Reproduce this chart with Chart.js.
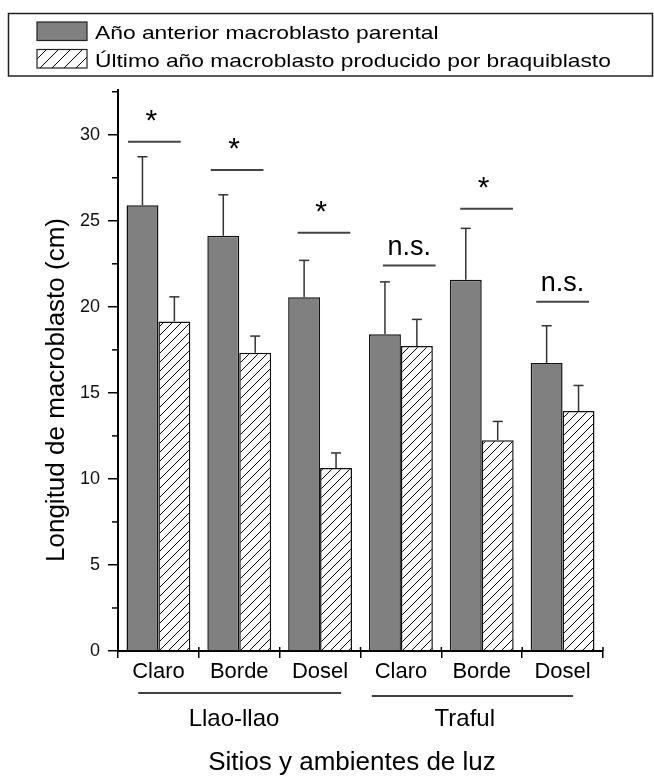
<!DOCTYPE html>
<html lang="es">
<head>
<meta charset="utf-8">
<title>Longitud de macroblasto</title>
<script src="https://cdn.jsdelivr.net/npm/chart.js@4.4.1/dist/chart.umd.min.js"></script>
<style>
  html, body { margin: 0; padding: 0; background: #fff; }
  canvas { display: block; }
</style>
</head>
<body>
<canvas id="chart" width="654" height="777"></canvas>
<script>
const categories = ["Claro", "Borde", "Dosel", "Claro", "Borde", "Dosel"];
const siteNames = ["Llao-llao", "Traful"];
const seriesNames = [
  "Año anterior macroblasto parental",
  "Último año macroblasto producido por braquiblasto",
];

const parentalMeans = [25.9, 24.13, 20.56, 18.4, 21.57, 16.74];
const parentalErr = [2.82, 2.38, 2.14, 3.05, 2.99, 2.16];
const braquiMeans = [19.15, 17.33, 10.64, 17.73, 12.25, 13.95];
const braquiErr = [1.43, 0.97, 0.87, 1.54, 1.09, 1.48];

const sigLabels = ["*", "*", "*", "n.s.", "*", "n.s."];
const sigLevels = [29.6, 27.95, 24.3, 22.4, 25.7, 20.3];

const yMax = 32.6;
const yStep = 5;

const FONT = "'Liberation Sans', Arial, sans-serif";

// layout of annotations, in category widths
const sigShift = [-0.05, -0.027, 0.048, 0.103, 0.06, 0.0];
const sigHalf = 0.326;
const siteSpans = [
  { from: 0.25, to: 2.76, label: 1.435 },
  { from: 3.14, to: 5.63, label: 4.29 },
];

function makeHatch(step, lw) {
  const c = document.createElement("canvas");
  c.width = step;
  c.height = step;
  const g = c.getContext("2d");
  g.fillStyle = "#fff";
  g.fillRect(0, 0, step, step);
  g.strokeStyle = "#000";
  g.lineWidth = lw;
  g.beginPath();
  g.moveTo(-1, step + 1);
  g.lineTo(step + 1, -1);
  g.moveTo(-1, 1);
  g.lineTo(1, -1);
  g.moveTo(step - 1, step + 1);
  g.lineTo(step + 1, step - 1);
  g.stroke();
  return g.createPattern(c, "repeat");
}

const barHatch = makeHatch(9, 1);
const legendHatch = makeHatch(12, 1);

function line(ctx, x1, y1, x2, y2) {
  ctx.beginPath();
  ctx.moveTo(x1, y1);
  ctx.lineTo(x2, y2);
  ctx.stroke();
}

const errorBars = {
  id: "errorBars",
  afterDatasetsDraw(chart) {
    const { ctx, scales } = chart;
    const y = scales.y;
    const x = scales.x;
    const catW = (x.right - x.left) / categories.length;
    const errs = [parentalErr, braquiErr];
    const means = [parentalMeans, braquiMeans];

    ctx.save();
    ctx.strokeStyle = "#333";
    ctx.lineWidth = 1.5;
    chart.data.datasets.forEach((ds, d) => {
      chart.getDatasetMeta(d).data.forEach((bar, i) => {
        const top = y.getPixelForValue(means[d][i] + errs[d][i]);
        line(ctx, bar.x, bar.y, bar.x, top);
        line(ctx, bar.x - 5, top, bar.x + 5, top);
      });
    });

    ctx.strokeStyle = "#444";
    ctx.lineWidth = 2;
    ctx.fillStyle = "#000";
    ctx.textAlign = "center";
    ctx.textBaseline = "alphabetic";
    sigLevels.forEach((lvl, i) => {
      const cx = x.getPixelForValue(i) + sigShift[i] * catW;
      const py = y.getPixelForValue(lvl);
      line(ctx, cx - sigHalf * catW, py, cx + sigHalf * catW, py);
      const star = sigLabels[i] === "*";
      ctx.font = star ? `30px ${FONT}` : `27px ${FONT}`;
      ctx.fillText(sigLabels[i], cx - (star ? 3 : 0), py - (star ? 12 : 11));
    });
    ctx.restore();
  },
};

const decor = {
  id: "decor",
  afterDraw(chart) {
    const { ctx, scales } = chart;
    const x = scales.x;
    const y = scales.y;
    const catW = (x.right - x.left) / categories.length;

    ctx.save();
    ctx.strokeStyle = "#000";
    ctx.lineWidth = 1.5;

    // minor y ticks
    for (let v = yStep / 2; v < yMax; v += yStep) {
      const py = y.getPixelForValue(v);
      line(ctx, x.left - 6, py, x.left, py);
    }
    // x boundary ticks poke above the axis
    for (let i = 1; i <= categories.length; i++) {
      const px = x.left + i * catW;
      line(ctx, px, y.bottom - 4, px, y.bottom);
    }

    // site brackets
    ctx.fillStyle = "#000";
    ctx.textAlign = "center";
    ctx.textBaseline = "alphabetic";
    ctx.font = `24px ${FONT}`;
    siteSpans.forEach((s, i) => {
      const ly = i === 0 ? 693 : 696;
      line(ctx, x.left + s.from * catW, ly, x.left + s.to * catW, ly);
      ctx.fillText(siteNames[i], x.left + s.label * catW, 726);
    });

    // axis titles
    ctx.font = `26px ${FONT}`;
    ctx.fillText("Sitios y ambientes de luz", 352, 770);
    ctx.save();
    ctx.translate(57, 390);
    ctx.rotate(-Math.PI / 2);
    ctx.textBaseline = "middle";
    ctx.fillText("Longitud de macroblasto (cm)", 0, 0);
    ctx.restore();

    // legend
    ctx.strokeStyle = "#222";
    ctx.lineWidth = 1.5;
    ctx.strokeRect(8.5, 13.5, 644, 62.5);
    ctx.lineWidth = 1.2;
    ctx.fillStyle = "#808080";
    ctx.fillRect(37, 22, 50, 18.5);
    ctx.strokeRect(37, 22, 50, 18.5);
    ctx.fillStyle = legendHatch;
    ctx.fillRect(37, 49.5, 50, 18.5);
    ctx.strokeRect(37, 49.5, 50, 18.5);

    ctx.fillStyle = "#000";
    ctx.textAlign = "left";
    ctx.font = `19px ${FONT}`;
    [38.5, 66.5].forEach((by, i) => {
      ctx.save();
      ctx.translate(95, by);
      ctx.scale(1.2, 1);
      ctx.fillText(seriesNames[i], 0, 0);
      ctx.restore();
    });
    ctx.restore();
  },
};

new Chart(document.getElementById("chart"), {
  type: "bar",
  data: {
    labels: categories,
    datasets: [
      {
        label: seriesNames[0],
        data: parentalMeans,
        backgroundColor: "#808080",
        borderColor: "#111",
        borderWidth: 1.5,
        categoryPercentage: 0.79,
        barPercentage: 1.0,
      },
      {
        label: seriesNames[1],
        data: braquiMeans,
        backgroundColor: barHatch,
        borderColor: "#111",
        borderWidth: 1.5,
        categoryPercentage: 0.79,
        barPercentage: 1.0,
      },
    ],
  },
  options: {
    responsive: false,
    animation: false,
    devicePixelRatio: 1,
    layout: { padding: { top: 90, right: 51, left: 0, bottom: 0 } },
    plugins: {
      legend: { display: false },
      title: { display: false },
      tooltip: { enabled: false },
    },
    scales: {
      x: {
        afterFit: (s) => { s.height = 126; },
        grid: {
          offset: true,
          drawOnChartArea: false,
          drawTicks: true,
          tickLength: 7,
          color: "#000",
          lineWidth: 1.5,
        },
        border: { display: true, color: "#000", width: 2 },
        ticks: {
          color: "#000",
          padding: 1,
          font: { family: FONT, size: 22 },
          maxRotation: 0,
          autoSkip: false,
        },
      },
      y: {
        min: 0,
        max: yMax,
        afterFit: (s) => { s.width = 118; },
        grid: {
          drawOnChartArea: false,
          drawTicks: true,
          tickLength: 10,
          color: "#000",
          lineWidth: 1.5,
        },
        border: { display: true, color: "#000", width: 2 },
        ticks: {
          stepSize: yStep,
          includeBounds: false,
          color: "#111",
          padding: 8,
          font: { family: FONT, size: 18 },
        },
      },
    },
  },
  plugins: [errorBars, decor],
});
</script>
</body>
</html>
